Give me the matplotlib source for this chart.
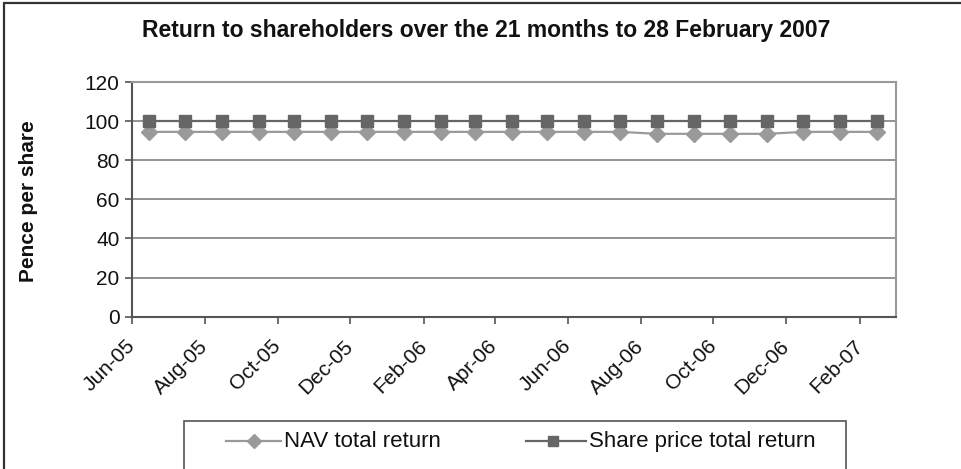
#!/usr/bin/env python3
"""
Return to shareholders over the 21 months to 28 February 2007 - line chart.
"""

import pandas as pd
import matplotlib.pyplot as plt
import matplotlib.dates as mdates
from matplotlib.lines import Line2D
from matplotlib.patches import Rectangle

plt.rcParams["font.family"] = ["Liberation Sans", "DejaVu Sans"]

# === DATA ===
months = pd.date_range("2005-06-01", periods=21, freq="MS") + pd.Timedelta(days=14)
nav_total_return = [94.5, 94.5, 94.5, 94.5, 94.5, 94.5, 94.5, 94.5, 94.5, 94.5,
                    94.5, 94.5, 94.5, 94.5, 93.5, 93.5, 93.5, 93.5, 94.5, 94.5, 94.5]
share_price_total_return = [100] * 21
tick_dates = pd.date_range("2005-06-01", "2007-02-01", freq="2MS")

# === PLOT ===
fig = plt.figure(figsize=(9.62, 4.69), dpi=100)
ax = fig.add_axes([132 / 962, 1 - 316.7 / 469, (896 - 132) / 962, (316.7 - 82) / 469])

nav_col = "#9a9a9a"
sp_col = "#666666"
txt_col = "#111111"

ax.plot(months, nav_total_return, color=nav_col, lw=1.6, marker="D", ms=8,
        mec=nav_col, mfc=nav_col, zorder=3)
ax.plot(months, share_price_total_return, color=sp_col, lw=1.6, marker="s", ms=8,
        mec=sp_col, mfc=sp_col, zorder=4)

ax.set_ylim(0, 120)
ax.set_yticks(range(0, 121, 20))
ax.set_xlim(pd.Timestamp("2005-06-01"), pd.Timestamp("2007-03-03"))
ax.set_xticks(tick_dates)
ax.xaxis.set_major_formatter(mdates.DateFormatter("%b-%y"))
ax.grid(axis="y", color="#808080", lw=1.2)
ax.set_axisbelow(True)

for side in ["top", "right"]:
    ax.spines[side].set_color("#999999")
    ax.spines[side].set_linewidth(1.5)
for side in ["left", "bottom"]:
    ax.spines[side].set_color("#555555")
    ax.spines[side].set_linewidth(1.5)

ax.tick_params(axis="both", direction="out", length=5, width=1.2, color="#555555",
               labelsize=15, labelcolor=txt_col)
ax.tick_params(axis="y", pad=4)
ax.tick_params(axis="x", pad=14)
plt.setp(ax.get_xticklabels(), rotation=45, ha="right", va="center", rotation_mode="anchor")

fig.text(486 / 962, 1 - 31 / 469, "Return to shareholders over the 21 months to 28 February 2007",
         ha="center", va="center", fontsize=16.5, fontweight="bold", color=txt_col)
fig.text(29 / 962, 1 - 201 / 469, "Pence per share", rotation=90, ha="center", va="center",
         fontsize=15, fontweight="bold", color=txt_col)

# outer frame (clipped right/bottom as in source)
fig.patches.append(Rectangle((3.5 / 962, -0.1), 1.2, (469 - 3.5) / 469 + 0.1,
                             transform=fig.transFigure, fill=False,
                             ec="#333333", lw=1.6))

# legend box (clipped at bottom)
fig.patches.append(Rectangle((184 / 962, -0.1), (846 - 184) / 962, (469 - 421) / 469 + 0.1,
                             transform=fig.transFigure, fill=False,
                             ec="#555555", lw=1.2))
ly = 1 - 441 / 469
fig.lines.append(Line2D([226 / 962, 281 / 962], [ly, ly], transform=fig.transFigure,
                        color=nav_col, lw=1.6))
fig.lines.append(Line2D([254 / 962], [ly], transform=fig.transFigure, color=nav_col,
                        marker="D", ms=7, mec=nav_col, mfc=nav_col))
fig.text(284 / 962, ly, "NAV total return", ha="left", va="center", fontsize=16,
         color=txt_col)
fig.lines.append(Line2D([526 / 962, 586 / 962], [ly, ly], transform=fig.transFigure,
                        color=sp_col, lw=1.6))
fig.lines.append(Line2D([553 / 962], [ly], transform=fig.transFigure, color=sp_col,
                        marker="s", ms=7, mec=sp_col, mfc=sp_col))
fig.text(589 / 962, ly, "Share price total return", ha="left", va="center", fontsize=16,
         color=txt_col)

fig.savefig("out.png", dpi=100)
